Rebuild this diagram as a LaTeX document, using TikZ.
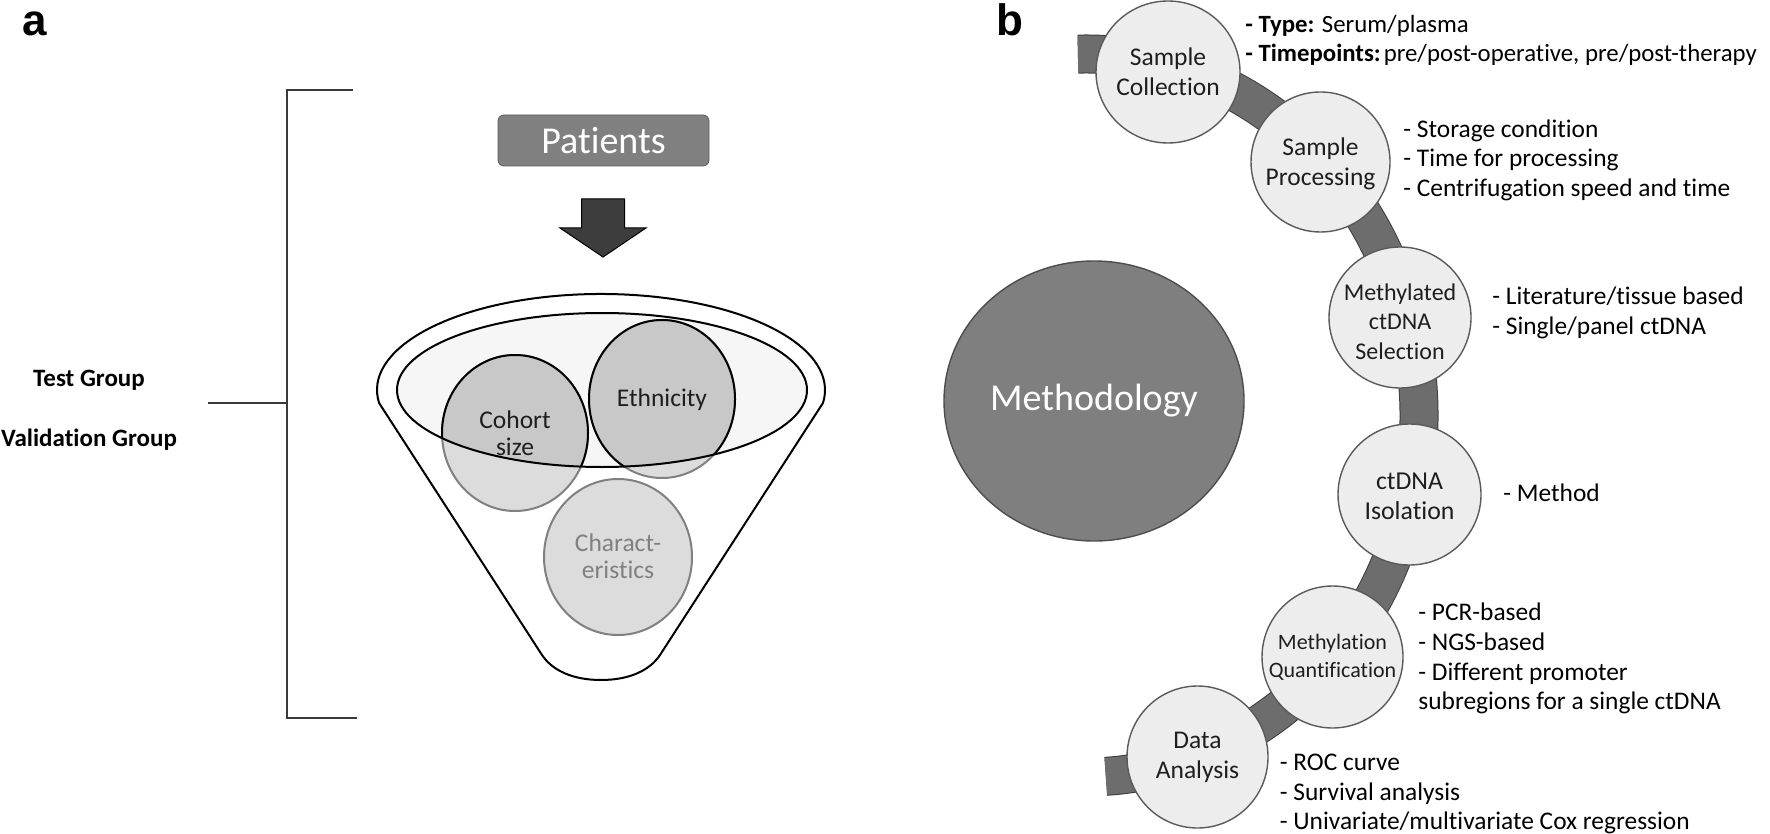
\documentclass[tikz,border=0pt]{standalone}
\usepackage{fontspec}
\setmainfont{Carlito}[Ligatures={NoCommon}]
\newfontfamily\lblfont{Liberation Sans}
\usetikzlibrary{shapes.geometric}
\definecolor{band}{HTML}{6D6D6D}
\definecolor{bandline}{HTML}{3C3C3C}
\definecolor{nodefill}{HTML}{EDEDED}
\definecolor{nodeline}{HTML}{5A5A5A}
\definecolor{methfill}{HTML}{7F7F7F}
\definecolor{methline}{HTML}{4D4D4D}
\definecolor{patfill}{HTML}{808080}
\definecolor{patline}{HTML}{595959}
\definecolor{arrowfill}{HTML}{3D3D3D}
\definecolor{ellfill}{HTML}{F6F6F6}
\definecolor{circlight}{HTML}{DCDCDC}
\definecolor{circdark}{HTML}{C8C8C8}
\definecolor{circedge}{HTML}{808080}
\definecolor{txtdark}{HTML}{1E1E1E}
\definecolor{bracketcol}{HTML}{3A3A3A}
\begin{document}
\begin{tikzpicture}[x=0.5pt,y=-0.5pt,
  pcirc/.style={ellipse, draw=nodeline, line width=0.7pt, fill=nodefill, inner sep=0pt, minimum width=71pt, minimum height=71pt},
  ptext/.style={align=center, inner sep=0pt, text=txtdark, font=\fontsize{12.75}{15}\selectfont},
  bullet/.style={anchor=base west, inner sep=0pt, font=\fontsize{12.7}{15}\selectfont},
  fcirc/.style={ellipse, draw=circedge, line width=1pt, fill=circlight, inner sep=0pt},
  ftext/.style={align=center, inner sep=0pt, font=\fontsize{12.75}{13.5}\selectfont},
  grouplbl/.style={anchor=base, inner sep=0pt, font=\fontsize{12.5}{15}\selectfont\bfseries},
  panellbl/.style={anchor=base west, inner sep=0pt, font=\lblfont\fontsize{22}{26}\selectfont\bfseries},
  bracket/.style={draw=bracketcol, line width=0.7pt}
]
\useasboundingbox (0,0) rectangle (1770,834);

% ---------- panel a ----------
\node[panellbl] (la) at (22,36) {a};
\draw[bracket] (353,90) -- (287,90) -- (287,718) -- (357,718);
\coordinate (brmid) at (287,403);
\coordinate (brleft) at (208,403);
\draw[bracket] (brleft) -- (brmid);
\node[grouplbl] (test) at (89,386) {Test Group};
\node[grouplbl] (valid) at (89,446) {Validation Group};

\node[draw=patline, fill=patfill, rounded corners=3pt, minimum width=105.5pt, minimum height=25.5pt, inner sep=0pt, text=white, font=\fontsize{19}{22}\selectfont] (pat) at (603.5,140.5) {Patients};

\draw[fill=arrowfill, draw=black, line width=0.5pt, line join=miter] (581.5,199) -- (624.5,199) -- (624.5,228) -- (646,228) -- (603,257) -- (560,228) -- (581.5,228) -- cycle;

% funnel
\draw[fill=white, line width=1pt] (379.1,403) arc[start angle=187.8, end angle=-7.8, x radius=112pt, y radius=48pt] -- (660,655) .. controls (650,670) and (630,680) .. (601,680) .. controls (572,680) and (552,670) .. (542,655) -- cycle;

\node[ellipse, fill=ellfill, minimum width=205pt, minimum height=77pt, inner sep=0pt] (inner) at (602,390) {};
\node[fcirc, minimum width=73pt, minimum height=78pt] (cohort) at (515,433) {};
\node[fcirc, minimum width=73pt, minimum height=79pt] (eth) at (662,399) {};
\node[fcirc, minimum width=74pt, minimum height=78pt] (char) at (618,557) {};
\begin{scope}
  \clip (602,390) ellipse [x radius=102.5pt, y radius=38.5pt];
  \draw[fill=circdark, draw=black, line width=1pt] (cohort.center) ellipse [x radius=36.5pt, y radius=39pt];
  \draw[fill=circdark, draw=black, line width=1pt] (eth.center) ellipse [x radius=36.5pt, y radius=39.5pt];
\end{scope}
\draw[line width=1pt] (inner.center) ellipse [x radius=102.5pt, y radius=38.5pt];

\node[ftext, text=txtdark] (cohorttxt) at (515,433.5) {Cohort\\size};
\node[ftext, text=txtdark] (ethtxt) at (662,400) {Ethnicity};
\node[ftext, text=circedge] (chartxt) at (618,556.5) {Charact-\\eristics};

% ---------- panel b ----------
\node[panellbl] (lb) at (996,36) {b};

\draw[draw=bandline, line width=19.5pt] (1077.9,54.1) arc[start angle=91.4, end angle=-86.6, x radius=166.5pt, y radius=180.75pt];
\draw[draw=band, line width=18.5pt] (1077.9,54.1) arc[start angle=91.4, end angle=-86.6, x radius=166.5pt, y radius=180.75pt];

\node[ellipse, draw=methline, line width=0.7pt, fill=methfill, minimum width=150pt, minimum height=140pt, inner sep=0pt] (meth) at (1094,401) {};
\node[text=white, font=\fontsize{19}{22}\selectfont, inner sep=0pt] (methtxt) at (1094,401) {Methodology};

\node[pcirc, minimum width=72pt] (sc) at (1168,72) {};
\node[pcirc, minimum width=69.5pt, minimum height=70pt] (sp) at (1320.5,162) {};
\node[pcirc, minimum height=70.5pt] (ms) at (1400,317.5) {};
\node[pcirc, minimum width=71.5pt, minimum height=70.5pt] (ci) at (1409.5,494.5) {};
\node[pcirc, minimum width=70.5pt] (mq) at (1332.5,657) {};
\node[pcirc, minimum width=70.5pt] (da) at (1197.5,757) {};

\node[ptext] (sctxt) at (sc.center) {Sample\\Collection};
\node[ptext] (sptxt) at ([yshift=-1pt]sp.center) {Sample\\Processing};
\node[ptext, font=\fontsize{12}{14.75}\selectfont] (mstxt) at ([yshift=-2pt]ms.center) {Methylated\\ctDNA\\Selection};
\node[ptext, font=\fontsize{12.9}{15}\selectfont] (citxt) at ([yshift=-1pt]ci.center) {ctDNA\\Isolation};
\node[ptext, font=\fontsize{11}{14}\selectfont] (mqtxt) at (mq.center) {Methylation\\Quantification};
\node[ptext] (datxt) at (da.center) {Data\\Analysis};

\node[bullet, font=\fontsize{12.4}{15}\selectfont] (sc1) at (1245,33) {\textbf{- Type:} Serum/plasma};
\node[bullet, font=\fontsize{12.4}{15}\selectfont] (sc2) at (1245,62) {\textbf{- Timepoints:}\hspace{0.12em}pre/post-operative, pre/post-therapy};
\node[bullet] (sp1) at (1403,137.5) {- Storage condition};
\node[bullet] (sp2) at (1403,167) {- Time for processing};
\node[bullet] (sp3) at (1403,197) {- Centrifugation speed and time};
\node[bullet] (ms1) at (1492,304) {- Literature/tissue based};
\node[bullet] (ms2) at (1492,334) {- Single/panel ctDNA};
\node[bullet] (ci1) at (1503,501) {- Method};
\node[bullet] (mq1) at (1418,620) {- PCR-based};
\node[bullet] (mq2) at (1418,650) {- NGS-based};
\node[bullet] (mq3) at (1418,680) {- Different promoter};
\node[bullet] (mq4) at (1418,709) {subregions for a single ctDNA};
\node[bullet] (da1) at (1279.5,770) {- ROC curve};
\node[bullet] (da2) at (1279.5,800) {- Survival analysis};
\node[bullet] (da3) at (1279.5,829) {- Univariate/multivariate Cox regression};
\end{tikzpicture}
\end{document}
